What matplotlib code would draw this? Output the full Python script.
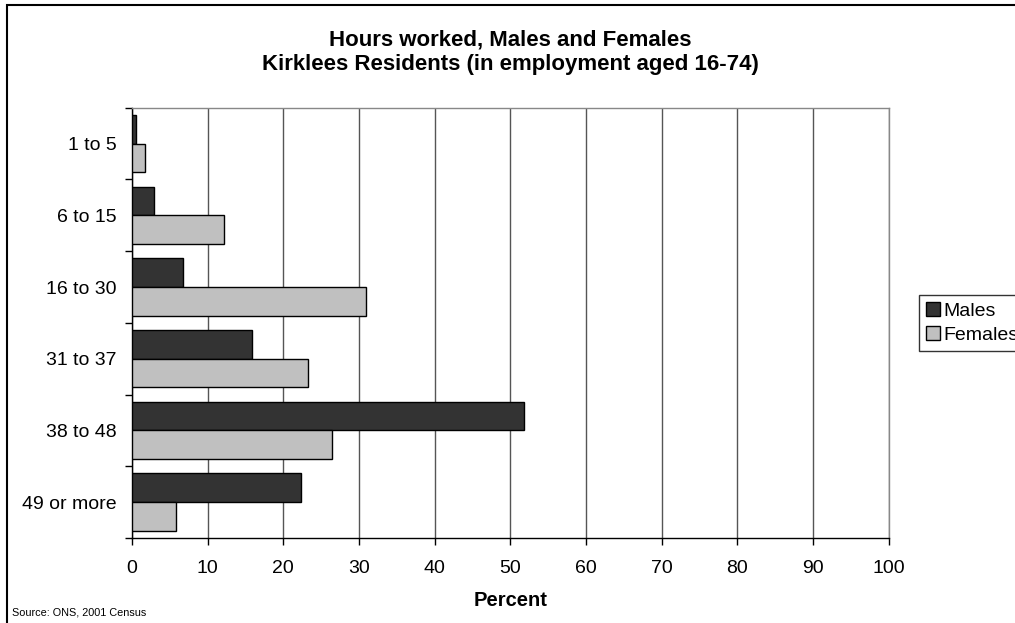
import numpy as np
import matplotlib.pyplot as plt
from matplotlib.patches import Rectangle

plt.rcParams['font.family'] = ['Liberation Sans', 'DejaVu Sans']

# Data
categories = ["1 to 5", "6 to 15", "16 to 30", "31 to 37", "38 to 48", "49 or more"]
males = [0.5, 2.9, 6.8, 15.9, 51.8, 22.4]
females = [1.7, 12.2, 30.9, 23.2, 26.5, 5.8]

fig = plt.figure(figsize=(10.15, 6.23), dpi=100)
ax = fig.add_axes([0.130, 0.1365, 0.7455, 0.6905])

y = np.arange(len(categories))
h = 0.4
ax.barh(y - h / 2, males, height=h, color="#333333", edgecolor="black", linewidth=1, label="Males", zorder=3)
ax.barh(y + h / 2, females, height=h, color="#c0c0c0", edgecolor="black", linewidth=1, label="Females", zorder=3)

ax.set_xlim(0, 100)
ax.set_ylim(len(categories) - 0.5, -0.5)
ax.set_xticks(np.arange(0, 101, 10))
ax.set_yticks(y)
ax.set_yticklabels(categories)
ax.set_yticks(np.arange(-0.5, len(categories)), minor=True)
ax.tick_params(axis="y", which="major", length=0, pad=11, labelsize=14)
ax.tick_params(axis="y", which="minor", length=5, width=1, color="black")
ax.tick_params(axis="x", length=5, width=1, pad=11, labelsize=14)

ax.grid(axis="x", color="#555555", linewidth=1, zorder=0)
for side in ["left", "bottom"]:
    ax.spines[side].set_color("black")
    ax.spines[side].set_linewidth(1)
for side in ["top", "right"]:
    ax.spines[side].set_color("#888888")
    ax.spines[side].set_linewidth(1)

ax.set_xlabel("Percent", fontsize=14.5, fontweight="bold", labelpad=10)

fig.text(0.503, 0.927, "Hours worked, Males and Females", ha="center", va="baseline",
         fontsize=16, fontweight="bold")
fig.text(0.503, 0.888, "Kirklees Residents (in employment aged 16-74)", ha="center", va="baseline",
         fontsize=16, fontweight="bold")
fig.text(0.0115, 0.017, "Source: ONS, 2001 Census", ha="left", va="center", fontsize=7.8)

fig.legend(loc="upper left", bbox_to_anchor=(0.905, 0.527), fontsize=14, frameon=True,
           fancybox=False, edgecolor="black", handlelength=0.7, handleheight=0.7,
           handletextpad=0.2, borderpad=0.4, labelspacing=0.3, borderaxespad=0)

# outer chart frame
fig.patches.append(Rectangle((7 / 1015, -0.1), 1.2, 1 - 5 / 623 + 0.1, transform=fig.transFigure,
                             fill=False, edgecolor="black", linewidth=1.5))

fig.savefig("out.png", dpi=100)
